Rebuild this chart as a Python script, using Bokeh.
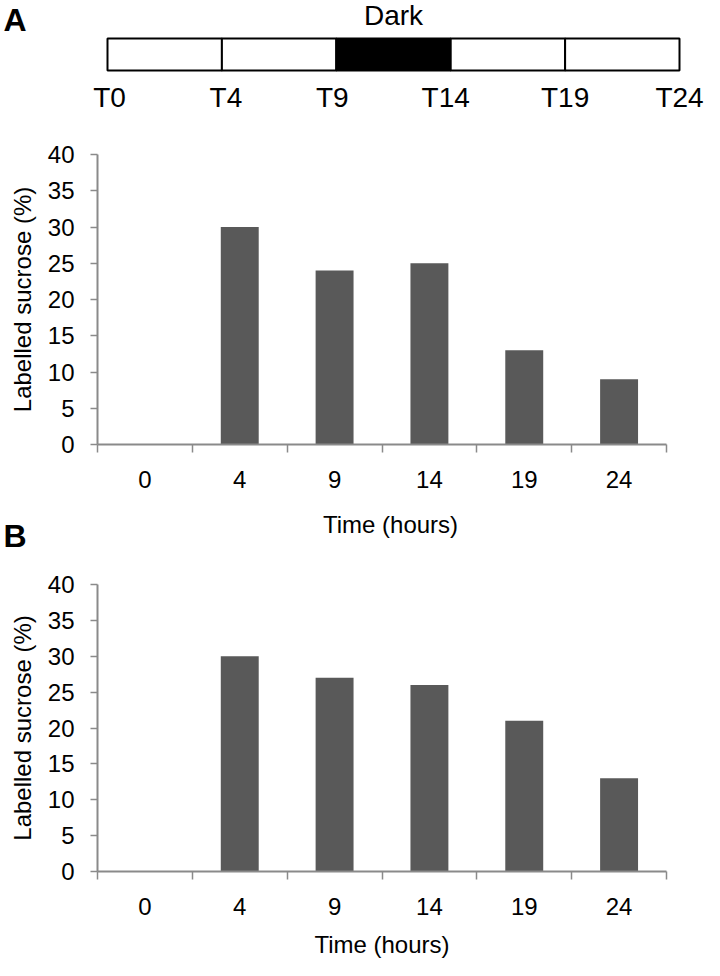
from bokeh.plotting import figure
from bokeh.layouts import column
from bokeh.models import Range1d, FixedTicker, Label
from bokeh.embed import file_html
from bokeh.resources import INLINE
from bokeh.core.properties import value

# ---------------- data ----------------
timeline_labels = ["T0", "T4", "T9", "T14", "T19", "T24"]
dark_segment = 2                     # segment T9 -> T14 is dark
hours = ["0", "4", "9", "14", "19", "24"]
sucrose_A = [0, 30, 24, 25, 13, 9]
sucrose_B = [0, 30, 27, 26, 21, 13]
y_ticks = [0, 5, 10, 15, 20, 25, 30, 35, 40]
x_title = "Time (hours)"
y_title = "Labelled sucrose (%)"

# ---------------- style ----------------
FONT = "Liberation Sans"
AXIS_GRAY = "#8a8a8a"
BAR_COLOR = "#595959"
W = 704
TOP_H = 126


def canvas_figure(height):
    """A figure whose frame is the whole canvas (pixel-like y coordinates)."""
    f = figure(width=W, height=height, x_range=Range1d(0, W), y_range=Range1d(height, 0),
               output_backend="svg", toolbar_location=None, min_border=0,
               x_axis_location=None, y_axis_location=None)
    f.frame_align = False
    f.grid.visible = False
    f.outline_line_color = None
    return f


# ---------------- timeline (top) ----------------
seg_px = (679 - 107) / 5.0
tx0 = (0 - 107) / seg_px
tx1 = 5 + (W - 679) / seg_px
top = figure(width=W, height=TOP_H, x_range=Range1d(tx0, tx1), y_range=Range1d(TOP_H, 0),
             output_backend="svg", toolbar_location=None, min_border=0,
             x_axis_location=None, y_axis_location=None)
top.frame_align = False
top.grid.visible = False
top.outline_line_color = None
nseg = len(timeline_labels) - 1
seg_left = list(range(nseg))
seg_right = [i + 1 for i in range(nseg)]
fills = ["black" if i == dark_segment else "white" for i in range(nseg)]
top.quad(left=seg_left, right=seg_right, top=38, bottom=70,
         fill_color=fills, line_color="black", line_width=2)
label_nudge = [2, 4, -4, -5, 0, 0]
top.text(x=list(range(len(timeline_labels))), y=[97] * len(timeline_labels),
         text=timeline_labels, x_offset=label_nudge,
         text_align="center", text_baseline="middle",
         text_font=value(FONT), text_font_size="28px", text_color="black")
top.text(x=[dark_segment + 0.5], y=[15], text=["Dark"],
         text_align="center", text_baseline="middle",
         text_font=value(FONT), text_font_size="28px", text_color="black")
top.add_layout(Label(x=3, y=TOP_H - 19, x_units="screen", y_units="screen", text="A",
                     text_font=FONT, text_font_size="32px", text_font_style="bold",
                     text_baseline="middle", text_align="left", text_color="black"))


def bar_chart(values, height, border_top, border_bottom, with_title, title_standoff=0):
    n = len(hours)
    p = figure(width=W, height=height, x_range=Range1d(0, n), y_range=Range1d(0, 40),
               output_backend="svg", toolbar_location=None,
               min_border_left=97, min_border_right=38,
               min_border_top=border_top, min_border_bottom=border_bottom)
    p.grid.visible = False
    p.outline_line_color = None
    xs = [i + 0.5 for i in range(n)]
    p.vbar(x=xs, top=values, bottom=0, width=0.4, fill_color=BAR_COLOR, line_color=None)

    xa = p.xaxis[0]
    xa.ticker = FixedTicker(ticks=xs, minor_ticks=list(range(n + 1)))
    xa.major_label_overrides = {x: h for x, h in zip(xs, hours)}
    xa.major_tick_line_color = None
    xa.major_tick_in = 0
    xa.major_tick_out = 0
    xa.minor_tick_line_color = AXIS_GRAY
    xa.minor_tick_line_width = 1.5
    xa.minor_tick_in = 0
    xa.minor_tick_out = 8
    xa.axis_line_color = AXIS_GRAY
    xa.axis_line_width = 2
    xa.major_label_standoff = 18
    xa.major_label_text_font = FONT
    xa.major_label_text_font_size = "24px"
    xa.major_label_text_color = "black"
    if with_title:
        xa.axis_label = x_title
        xa.axis_label_standoff = title_standoff
        xa.axis_label_text_font = FONT
        xa.axis_label_text_font_size = "24px"
        xa.axis_label_text_font_style = "normal"
        xa.axis_label_text_color = "black"

    ya = p.yaxis[0]
    ya.ticker = FixedTicker(ticks=y_ticks, minor_ticks=[])
    ya.major_tick_line_color = AXIS_GRAY
    ya.major_tick_line_width = 1.5
    ya.major_tick_in = 0
    ya.major_tick_out = 7
    ya.axis_line_color = AXIS_GRAY
    ya.axis_line_width = 2
    ya.major_label_standoff = 16
    ya.major_label_text_font = FONT
    ya.major_label_text_font_size = "24px"
    ya.major_label_text_color = "black"
    ya.axis_label = y_title
    ya.axis_label_standoff = 9
    ya.axis_label_text_font = FONT
    ya.axis_label_text_font_size = "24px"
    ya.axis_label_text_font_style = "normal"
    ya.axis_label_text_color = "black"
    return p


# chart A: figure 126..504, frame 154..444 (its x title is drawn in the strip below)
pA = bar_chart(sucrose_A, 378, 28, 60, False)

# strip 504..552: chart A's x-axis title and the panel letter "B"
STRIP_TOP, STRIP_H = 504, 48
strip = canvas_figure(STRIP_H)
strip.text(x=[390], y=[524 - STRIP_TOP], text=[x_title], text_align="center",
           text_baseline="middle", text_font=value(FONT), text_font_size="24px",
           text_color="black")
strip.text(x=[3], y=[535 - STRIP_TOP], text=["B"], text_align="left",
           text_baseline="middle", text_font=value(FONT), text_font_size="32px",
           text_font_style="bold", text_color="black")

# chart B: figure 552..960, frame 584..872
pB = bar_chart(sucrose_B, 408, 32, 88, True, 13)

layout = column(top, pA, strip, pB, spacing=0)
open("out.html", "w").write(file_html(layout, INLINE))
